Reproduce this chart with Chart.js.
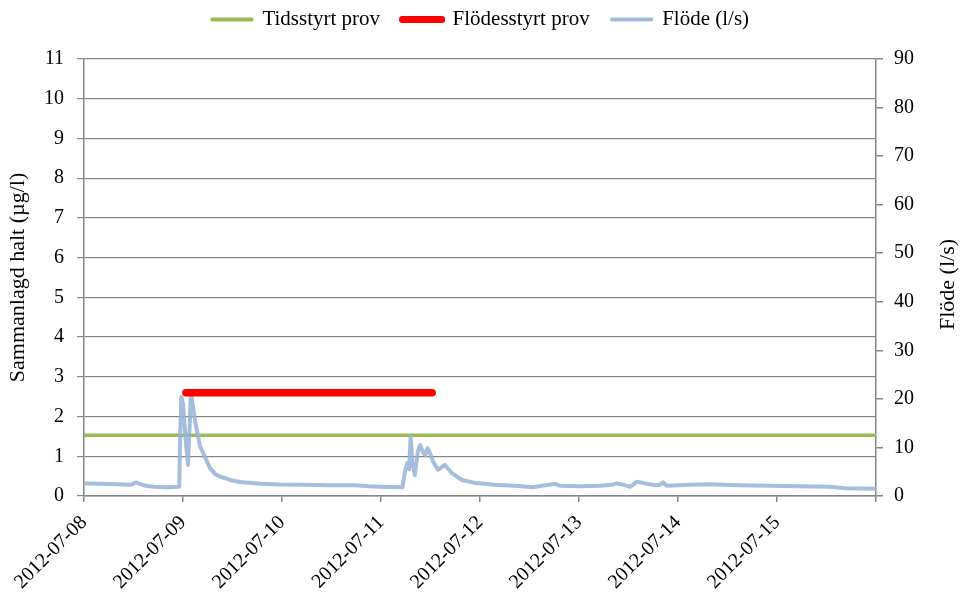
<!DOCTYPE html>
<html>
<head>
<meta charset="utf-8">
<script src="https://cdn.jsdelivr.net/npm/chart.js@4/dist/chart.umd.min.js"></script>
<style>
  html, body { margin: 0; padding: 0; background: #ffffff; }
  #wrap { width: 961px; height: 593px; }
</style>
</head>
<body>
<div id="wrap"><canvas id="chart" width="961" height="593"></canvas></div>
<script>
// Day labels on the time axis (x values are hours since 2012-07-08 00:00)
const dayLabels = ['2012-07-08', '2012-07-09', '2012-07-10', '2012-07-11',
                   '2012-07-12', '2012-07-13', '2012-07-14', '2012-07-15'];

// Time-controlled composite sample: concentration (µg/l) over its sampling period
const timedHours = [0, 192];
const timedValue = 1.53;

// Flow-controlled composite sample: concentration (µg/l) over its sampling period
const flowSampleHours = [24.7, 84.4];
const flowSampleValue = 2.6;

// Measured flow (l/s)
const flowHours = [0, 4, 8, 11.5, 12.5, 13.5, 15, 17, 20, 22.8, 23.1, 23.3, 23.6, 24.0, 24.6, 25.2,
  25.6, 25.9, 26.9, 28.1, 29.3, 30.5, 31.8, 33, 35.4, 37.8, 42.7, 47.5, 52.4, 59.6, 65.7, 69, 71.8,
  77.2, 77.9, 78.4, 78.8, 79.2, 79.6, 80.2, 80.9, 81.5, 82.2, 82.7, 83.3, 83.8, 84.6, 85.8, 87.5,
  89.2, 91.6, 94.8, 99.6, 104.5, 108.8, 111.8, 114.2, 115.4, 120.2, 125.1, 128, 129.2, 131.2,
  132.4, 134.1, 136, 138.4, 139.6, 140.4, 141.3, 146.9, 151.8, 159, 166.3, 173.6, 180.8, 184.5, 192];
const flowValues = [2.6, 2.5, 2.4, 2.3, 2.8, 2.5, 2.1, 1.9, 1.8, 1.9, 2.0, 12, 20.4, 19, 12, 6.4,
  14, 21.3, 15.6, 10.3, 8.1, 5.8, 4.5, 4.0, 3.3, 2.9, 2.5, 2.35, 2.3, 2.2, 2.2, 2.0, 1.9,
  1.8, 5.5, 6.8, 5.5, 12.2, 7, 4.3, 9, 10.5, 9, 8.4, 9.8, 9.0, 7.1, 5.4, 6.4,
  4.7, 3.3, 2.7, 2.3, 2.1, 1.8, 2.2, 2.5, 2.1, 2.0, 2.1, 2.3, 2.6, 2.2,
  1.9, 2.95, 2.6, 2.2, 2.3, 2.8, 2.1, 2.3, 2.4, 2.2, 2.1, 2.0, 1.9, 1.6, 1.5];

const seriesNames = ['Tidsstyrt prov', 'Flödesstyrt prov', 'Flöde (l/s)'];
const leftTitle = 'Sammanlagd halt (µg/l)';
const rightTitle = 'Flöde (l/s)';

const GREEN = '#9bbb59';
const RED = '#ff0000';
const BLUE = 'rgba(149,179,215,0.85)';
const AXIS = '#868686';
const FONT = 'Liberation Serif, Times New Roman, serif';

const toPoints = (xs, ys) => xs.map((x, i) => ({ x: x, y: ys[i] }));

const TOP_PAD = -13;
const PLOT_TOP = 59;

// Stretch the legend block so the plot begins below it
const legendSpacer = {
  id: 'legendSpacer',
  beforeInit(chart) {
    const origFit = chart.legend.fit;
    chart.legend.fit = function () {
      origFit.call(this);
      this.height = PLOT_TOP - TOP_PAD;
    };
  }
};

// Secondary axis title, written bottom-to-top like the primary one
const rightAxisTitle = {
  id: 'rightAxisTitle',
  afterDraw(chart) {
    const { ctx, chartArea } = chart;
    ctx.save();
    ctx.translate(chart.width - 13, (chartArea.top + chartArea.bottom) / 2 + 7);
    ctx.rotate(-Math.PI / 2);
    ctx.font = '22px ' + FONT;
    ctx.fillStyle = '#000';
    ctx.textAlign = 'center';
    ctx.textBaseline = 'middle';
    ctx.fillText(rightTitle, 0, 0);
    ctx.restore();
  }
};

new Chart(document.getElementById('chart'), {
  type: 'line',
  data: {
    datasets: [
      {
        label: seriesNames[0],
        data: toPoints(timedHours, [timedValue, timedValue]),
        borderColor: GREEN, borderWidth: 3.5, pointRadius: 0,
        yAxisID: 'y', order: 3
      },
      {
        label: seriesNames[1],
        data: toPoints(flowSampleHours, [flowSampleValue, flowSampleValue]),
        borderColor: RED, borderWidth: 7.5, borderCapStyle: 'round', pointRadius: 0,
        yAxisID: 'y', order: 1
      },
      {
        label: seriesNames[2],
        data: toPoints(flowHours, flowValues),
        borderColor: BLUE, borderWidth: 4, pointRadius: 0, tension: 0,
        borderJoinStyle: 'round',
        yAxisID: 'y2', order: 2
      }
    ]
  },
  options: {
    responsive: false,
    animation: false,
    layout: { padding: { top: TOP_PAD, left: 0, right: 0, bottom: 0 } },
    plugins: {
      tooltip: { enabled: false },
      legend: {
        position: 'top',
        align: 'center',
        labels: {
          font: { family: FONT, size: 21 },
          color: '#000',
          boxWidth: 40,
          boxHeight: 1,
          padding: 22,
          generateLabels() {
            const colors = [GREEN, RED, BLUE];
            const widths = [3, 6, 3];
            return seriesNames.map((name, i) => ({
              text: name,
              fillStyle: colors[i],
              strokeStyle: colors[i],
              lineWidth: widths[i],
              lineJoin: 'round',
              lineCap: 'round',
              hidden: false,
              fontColor: '#000',
              datasetIndex: i
            }));
          }
        }
      }
    },
    scales: {
      x: {
        type: 'linear',
        min: 0, max: 192,
        afterFit(scale) { scale.height = 97; },
        afterBuildTicks(scale) {
          scale.ticks = dayLabels.map((d, i) => ({ value: i * 24 })).concat([{ value: 192 }]);
        },
        ticks: {
          autoSkip: false,
          maxRotation: 45, minRotation: 45,
          padding: 9,
          color: '#000',
          font: { family: FONT, size: 20 },
          callback(value) {
            const i = Math.round(value / 24);
            return i < dayLabels.length ? dayLabels[i] : '';
          }
        },
        grid: { drawOnChartArea: false, drawTicks: true, tickLength: 6, color: AXIS, lineWidth: 1.5 },
        border: { color: AXIS, width: 1.5 }
      },
      y: {
        position: 'left',
        min: 0, max: 11,
        afterFit(scale) { scale.width = 84; },
        ticks: {
          stepSize: 1,
          padding: 13,
          color: '#000',
          font: { family: FONT, size: 20 }
        },
        grid: { color: AXIS, lineWidth: 1.2, tickLength: 7 },
        border: { color: AXIS, width: 1.5 },
        title: {
          display: true,
          text: leftTitle,
          color: '#000',
          font: { family: FONT, size: 22 },
          padding: { top: 5, bottom: 0 }
        }
      },
      y2: {
        position: 'right',
        min: 0, max: 90,
        afterFit(scale) { scale.width = 85; },
        ticks: {
          stepSize: 10,
          padding: 11,
          color: '#000',
          font: { family: FONT, size: 20 }
        },
        grid: { drawOnChartArea: false, color: AXIS, lineWidth: 1.5, tickLength: 7 },
        border: { color: AXIS, width: 1.5 }
      }
    }
  },
  plugins: [legendSpacer, rightAxisTitle]
});
</script>
</body>
</html>
